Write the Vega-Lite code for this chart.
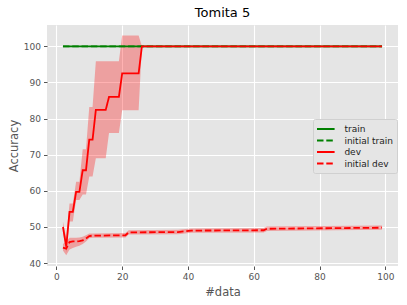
{
  "$schema": "https://vega.github.io/schema/vega-lite/v6.json",
  "width": 351,
  "height": 241,
  "autosize": {"type": "none"},
  "padding": {"left": 47, "top": 25, "right": 9, "bottom": 39},
  "background": "white",
  "title": {"text": "Tomita 5", "fontSize": 13, "font": "DejaVu Sans", "fontWeight": "normal", "color": "black", "offset": 5, "anchor": "middle"},
  "datasets": {
    "d": [
      {"x": 2, "series": "train", "acc": 100},
      {"x": 99, "series": "train", "acc": 100},
      {"x": 2, "series": "initial train", "acc": 100},
      {"x": 99, "series": "initial train", "acc": 100},
      {"x": 2, "series": "dev", "acc": 50.0, "lo": 48.5, "hi": 51.5},
      {"x": 3, "series": "dev", "acc": 44.6, "lo": 43.0, "hi": 47.0},
      {"x": 4, "series": "dev", "acc": 54.2, "lo": 51.5, "hi": 56.5},
      {"x": 5, "series": "dev", "acc": 54.2, "lo": 51.5, "hi": 56.5},
      {"x": 6, "series": "dev", "acc": 59.7, "lo": 57.5, "hi": 62.5},
      {"x": 7, "series": "dev", "acc": 59.7, "lo": 57.5, "hi": 62.5},
      {"x": 8, "series": "dev", "acc": 65.7, "lo": 59.0, "hi": 71.5},
      {"x": 9, "series": "dev", "acc": 65.7, "lo": 59.0, "hi": 71.5},
      {"x": 10, "series": "dev", "acc": 74.2, "lo": 64.0, "hi": 83.2},
      {"x": 11, "series": "dev", "acc": 74.2, "lo": 64.0, "hi": 83.2},
      {"x": 12, "series": "dev", "acc": 82.4, "lo": 69.0, "hi": 95.9},
      {"x": 13, "series": "dev", "acc": 82.4, "lo": 69.0, "hi": 95.9},
      {"x": 14, "series": "dev", "acc": 82.4, "lo": 69.0, "hi": 95.9},
      {"x": 15, "series": "dev", "acc": 82.4, "lo": 69.0, "hi": 95.9},
      {"x": 16, "series": "dev", "acc": 86.0, "lo": 76.0, "hi": 95.9},
      {"x": 17, "series": "dev", "acc": 86.0, "lo": 76.0, "hi": 95.9},
      {"x": 18, "series": "dev", "acc": 86.0, "lo": 76.0, "hi": 95.9},
      {"x": 19, "series": "dev", "acc": 86.0, "lo": 76.0, "hi": 95.9},
      {"x": 20, "series": "dev", "acc": 92.5, "lo": 82.3, "hi": 103.0},
      {"x": 21, "series": "dev", "acc": 92.5, "lo": 82.3, "hi": 103.0},
      {"x": 22, "series": "dev", "acc": 92.5, "lo": 82.3, "hi": 103.0},
      {"x": 23, "series": "dev", "acc": 92.5, "lo": 82.3, "hi": 103.0},
      {"x": 24, "series": "dev", "acc": 92.5, "lo": 82.3, "hi": 103.0},
      {"x": 25, "series": "dev", "acc": 92.5, "lo": 82.3, "hi": 103.0},
      {"x": 26, "series": "dev", "acc": 100, "lo": 100, "hi": 100},
      {"x": 99, "series": "dev", "acc": 100, "lo": 100, "hi": 100},
      {"x": 2, "series": "initial dev", "acc": 44.3, "lo": 43.5, "hi": 45.3},
      {"x": 3, "series": "initial dev", "acc": 44.0, "lo": 42.2, "hi": 46.0},
      {"x": 4, "series": "initial dev", "acc": 45.8, "lo": 43.8, "hi": 47.0},
      {"x": 5, "series": "initial dev", "acc": 46.0, "lo": 44.2, "hi": 47.0},
      {"x": 6, "series": "initial dev", "acc": 46.0, "lo": 44.5, "hi": 47.0},
      {"x": 7, "series": "initial dev", "acc": 46.1, "lo": 44.8, "hi": 47.1},
      {"x": 8, "series": "initial dev", "acc": 46.3, "lo": 45.3, "hi": 47.3},
      {"x": 9, "series": "initial dev", "acc": 46.8, "lo": 46.0, "hi": 47.7},
      {"x": 10, "series": "initial dev", "acc": 47.5, "lo": 46.9, "hi": 48.2},
      {"x": 11, "series": "initial dev", "acc": 47.6, "lo": 47.0, "hi": 48.2},
      {"x": 21, "series": "initial dev", "acc": 47.7, "lo": 47.1, "hi": 48.3},
      {"x": 22, "series": "initial dev", "acc": 48.5, "lo": 47.9, "hi": 49.1},
      {"x": 37, "series": "initial dev", "acc": 48.6, "lo": 48.0, "hi": 49.2},
      {"x": 41, "series": "initial dev", "acc": 49.0, "lo": 48.4, "hi": 49.6},
      {"x": 63, "series": "initial dev", "acc": 49.1, "lo": 48.5, "hi": 49.7},
      {"x": 64, "series": "initial dev", "acc": 49.5, "lo": 48.9, "hi": 50.1},
      {"x": 99, "series": "initial dev", "acc": 49.8, "lo": 49.2, "hi": 50.4}
    ]
  },
  "data": {"name": "d"},
  "encoding": {
    "x": {"field": "x", "type": "quantitative", "scale": {"domain": [-2.85, 103.85], "nice": false, "zero": false}, "axis": {"values": [0, 20, 40, 60, 80, 100], "title": "#data", "titlePadding": 5}}
  },
  "layer": [
    {
      "transform": [{"filter": "isValid(datum.lo)"}],
      "mark": {"type": "area", "color": "#FF0000", "opacity": 0.3},
      "encoding": {
        "y": {"field": "lo", "type": "quantitative", "scale": {"domain": [39.2, 105.9], "nice": false, "zero": false}, "axis": {"values": [40, 50, 60, 70, 80, 90, 100], "title": "Accuracy", "titlePadding": 4}},
        "y2": {"field": "hi"},
        "detail": {"field": "series"}
      }
    },
    {
      "transform": [{"filter": "datum.series == 'train'"}],
      "mark": {"type": "line", "strokeWidth": 1.8},
      "encoding": {
        "y": {"field": "acc", "type": "quantitative", "scale": {"domain": [39.2, 105.9], "nice": false, "zero": false}, "axis": {"values": [40, 50, 60, 70, 80, 90, 100], "title": "Accuracy", "titlePadding": 4}},
        "color": {"field": "series", "type": "nominal", "scale": {"domain": ["train", "initial train", "dev", "initial dev"], "range": ["#008000", "#008000", "#FF0000", "#FF0000"]}, "legend": {"title": null, "orient": "none", "legendX": 266, "legendY": 94}},
        "strokeDash": {"field": "series", "type": "nominal", "scale": {"domain": ["train", "initial train", "dev", "initial dev"], "range": [[1, 0], [6.5, 2.8], [1, 0], [6.5, 2.8]]}, "legend": {"title": null, "orient": "none", "legendX": 266, "legendY": 94}}
      }
    },
    {
      "transform": [{"filter": "datum.series == 'initial train'"}],
      "mark": {"type": "line", "strokeWidth": 1.8},
      "encoding": {
        "y": {"field": "acc", "type": "quantitative", "scale": {"domain": [39.2, 105.9], "nice": false, "zero": false}, "axis": {"values": [40, 50, 60, 70, 80, 90, 100], "title": "Accuracy", "titlePadding": 4}},
        "color": {"field": "series", "type": "nominal", "scale": {"domain": ["train", "initial train", "dev", "initial dev"], "range": ["#008000", "#008000", "#FF0000", "#FF0000"]}, "legend": {"title": null, "orient": "none", "legendX": 266, "legendY": 94}},
        "strokeDash": {"field": "series", "type": "nominal", "scale": {"domain": ["train", "initial train", "dev", "initial dev"], "range": [[1, 0], [6.5, 2.8], [1, 0], [6.5, 2.8]]}, "legend": {"title": null, "orient": "none", "legendX": 266, "legendY": 94}}
      }
    },
    {
      "transform": [{"filter": "datum.series == 'dev'"}],
      "mark": {"type": "line", "strokeWidth": 1.8},
      "encoding": {
        "y": {"field": "acc", "type": "quantitative", "scale": {"domain": [39.2, 105.9], "nice": false, "zero": false}, "axis": {"values": [40, 50, 60, 70, 80, 90, 100], "title": "Accuracy", "titlePadding": 4}},
        "color": {"field": "series", "type": "nominal", "scale": {"domain": ["train", "initial train", "dev", "initial dev"], "range": ["#008000", "#008000", "#FF0000", "#FF0000"]}, "legend": {"title": null, "orient": "none", "legendX": 266, "legendY": 94}},
        "strokeDash": {"field": "series", "type": "nominal", "scale": {"domain": ["train", "initial train", "dev", "initial dev"], "range": [[1, 0], [6.5, 2.8], [1, 0], [6.5, 2.8]]}, "legend": {"title": null, "orient": "none", "legendX": 266, "legendY": 94}}
      }
    },
    {
      "transform": [{"filter": "datum.series == 'initial dev'"}],
      "mark": {"type": "line", "strokeWidth": 1.8},
      "encoding": {
        "y": {"field": "acc", "type": "quantitative", "scale": {"domain": [39.2, 105.9], "nice": false, "zero": false}, "axis": {"values": [40, 50, 60, 70, 80, 90, 100], "title": "Accuracy", "titlePadding": 4}},
        "color": {"field": "series", "type": "nominal", "scale": {"domain": ["train", "initial train", "dev", "initial dev"], "range": ["#008000", "#008000", "#FF0000", "#FF0000"]}, "legend": {"title": null, "orient": "none", "legendX": 266, "legendY": 94}},
        "strokeDash": {"field": "series", "type": "nominal", "scale": {"domain": ["train", "initial train", "dev", "initial dev"], "range": [[1, 0], [6.5, 2.8], [1, 0], [6.5, 2.8]]}, "legend": {"title": null, "orient": "none", "legendX": 266, "legendY": 94}}
      }
    }
  ],
  "config": {
    "font": "DejaVu Sans",
    "view": {"fill": "#E5E5E5", "stroke": null},
    "axis": {"domain": false, "grid": true, "gridColor": "white", "gridWidth": 1.1, "tickColor": "#555555", "tickSize": 3.5, "labelColor": "#555555", "labelFontSize": 9, "labelPadding": 3, "labelFont": "DejaVu Sans", "titleColor": "#555555", "titleFontSize": 11.5, "titleFontWeight": "normal", "titleFont": "DejaVu Sans"},
    "legend": {"padding": 4, "fillColor": "#E5E5E5", "strokeColor": "#D0D0D0", "cornerRadius": 2, "symbolType": "M-1.76,0L1.76,0", "symbolSize": 100, "symbolStrokeWidth": 1.8, "symbolOffset": 2.8, "labelOffset": 12.6, "labelFontSize": 9, "labelFont": "DejaVu Sans", "labelColor": "#222222", "rowPadding": 0.5}
  }
}
